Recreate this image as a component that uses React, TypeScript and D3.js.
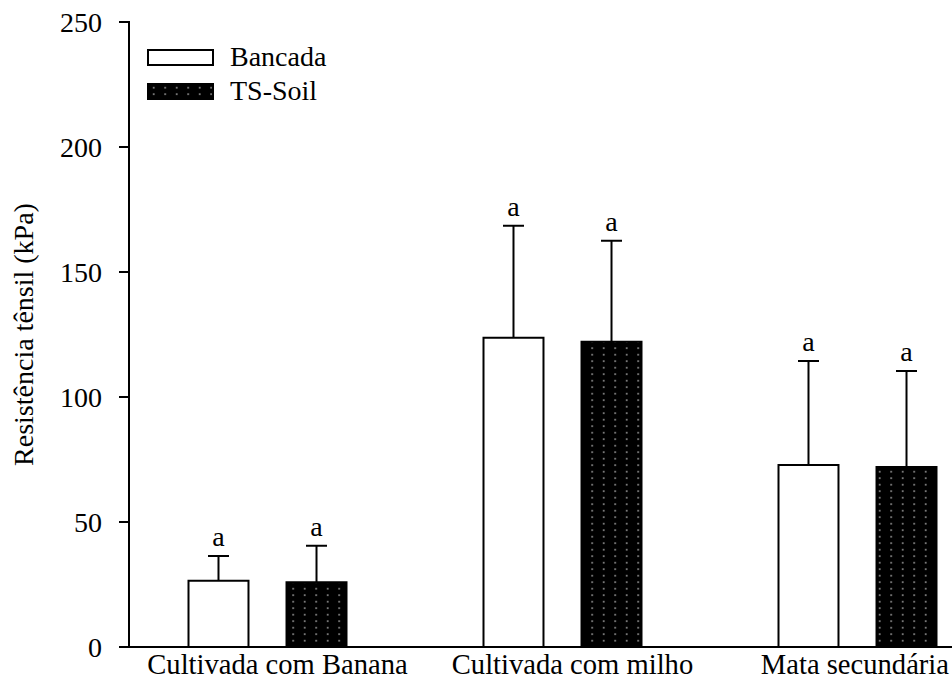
import React from "react";
import * as d3 from "d3";

const categories = ["Cultivada com Banana", "Cultivada com milho", "Mata secundária"];
const seriesNames = ["Bancada", "TS-Soil"];
const bancadaMean = [26.5, 123.7, 72.8];
const bancadaErr = [9.9, 44.8, 41.6];
const tsSoilMean = [25.9, 122.1, 72.0];
const tsSoilErr = [14.6, 40.4, 38.4];
const letters = [["a", "a"], ["a", "a"], ["a", "a"]];
const yTicks = [0, 50, 100, 150, 200, 250];

const W = 952;
const H = 679;
const FONT = "Liberation Serif";

export default function App() {
  const left = 129;
  const right = 952;
  const top = 22;
  const bottom = 647;

  const y = d3.scaleLinear().domain([0, 250]).range([bottom, top]);
  const x = d3.scaleBand<string>().domain(categories).range([120, 1005]).paddingInner(0).paddingOuter(0);
  const inner = d3.scaleBand<string>().domain(seriesNames).range([0, 158]).paddingInner(0.388);

  const series = [
    { name: seriesNames[0], mean: bancadaMean, err: bancadaErr, fill: "#ffffff" },
    { name: seriesNames[1], mean: tsSoilMean, err: tsSoilErr, fill: "url(#dots)" },
  ];

  const groupOffset = (x.bandwidth() - 158) / 2;

  return (
    <svg width={W} height={H} style={{ position: "absolute", left: 0, top: 0, background: "#fff" }}>
      <defs>
        <pattern id="dots" patternUnits="userSpaceOnUse" width={11.5} height={6.5}>
          <rect width={11.5} height={6.5} fill="#000" />
          <rect x={5} y={3} width={1.4} height={1.4} fill="#d0d0d0" />
        </pattern>
      </defs>

      {/* bars, error bars and significance letters */}
      {categories.map((c, ci) =>
        series.map((s, si) => {
          const bx = (x(c) as number) + groupOffset + (inner(s.name) as number);
          const bw = inner.bandwidth();
          const cx = bx + bw / 2;
          const yTop = y(s.mean[ci]);
          const yErr = y(s.mean[ci] + s.err[ci]);
          return (
            <g key={`${ci}-${si}`}>
              <line x1={cx} x2={cx} y1={yTop} y2={yErr} stroke="#000" strokeWidth={2} />
              <line x1={cx - 10.5} x2={cx + 10.5} y1={yErr} y2={yErr} stroke="#000" strokeWidth={2} />
              <rect x={bx} y={yTop} width={bw} height={bottom - yTop} fill={s.fill} stroke="#000" strokeWidth={2} />
              <text x={cx} y={yErr - 10} textAnchor="middle" fontFamily={FONT} fontSize={28}>
                {letters[ci][si]}
              </text>
            </g>
          );
        })
      )}

      {/* axes */}
      <line x1={left} x2={left} y1={top - 1} y2={bottom + 1} stroke="#000" strokeWidth={2} />
      <line x1={left - 1} x2={right} y1={bottom} y2={bottom} stroke="#000" strokeWidth={2} />
      {yTicks.map((t) => (
        <g key={t}>
          <line x1={left - 10} x2={left} y1={y(t)} y2={y(t)} stroke="#000" strokeWidth={2} />
          <text x={left - 27} y={y(t)} dy="0.34em" textAnchor="end" fontFamily={FONT} fontSize={28}>
            {t}
          </text>
        </g>
      ))}
      {categories.map((c, i) => {
        const last = i === categories.length - 1;
        return (
          <text
            key={c}
            x={last ? right - 3 : (x(c) as number) + x.bandwidth() / 2 + 10}
            y={674}
            textAnchor={last ? "end" : "middle"}
            fontFamily={FONT}
            fontSize={28.6}
          >
            {c}
          </text>
        );
      })}
      <text
        transform={`translate(33, ${(top + bottom) / 2}) rotate(-90)`}
        textAnchor="middle"
        fontFamily={FONT}
        fontSize={28}
      >
        Resistência tênsil (kPa)
      </text>

      {/* legend */}
      {series.map((s, i) => (
        <g key={s.name} transform={`translate(148, ${50 + i * 34})`}>
          <rect x={0} y={0} width={65} height={15} fill={s.fill} stroke="#000" strokeWidth={2} />
          <text x={82} y={16} fontFamily={FONT} fontSize={28}>
            {s.name}
          </text>
        </g>
      ))}
    </svg>
  );
}
